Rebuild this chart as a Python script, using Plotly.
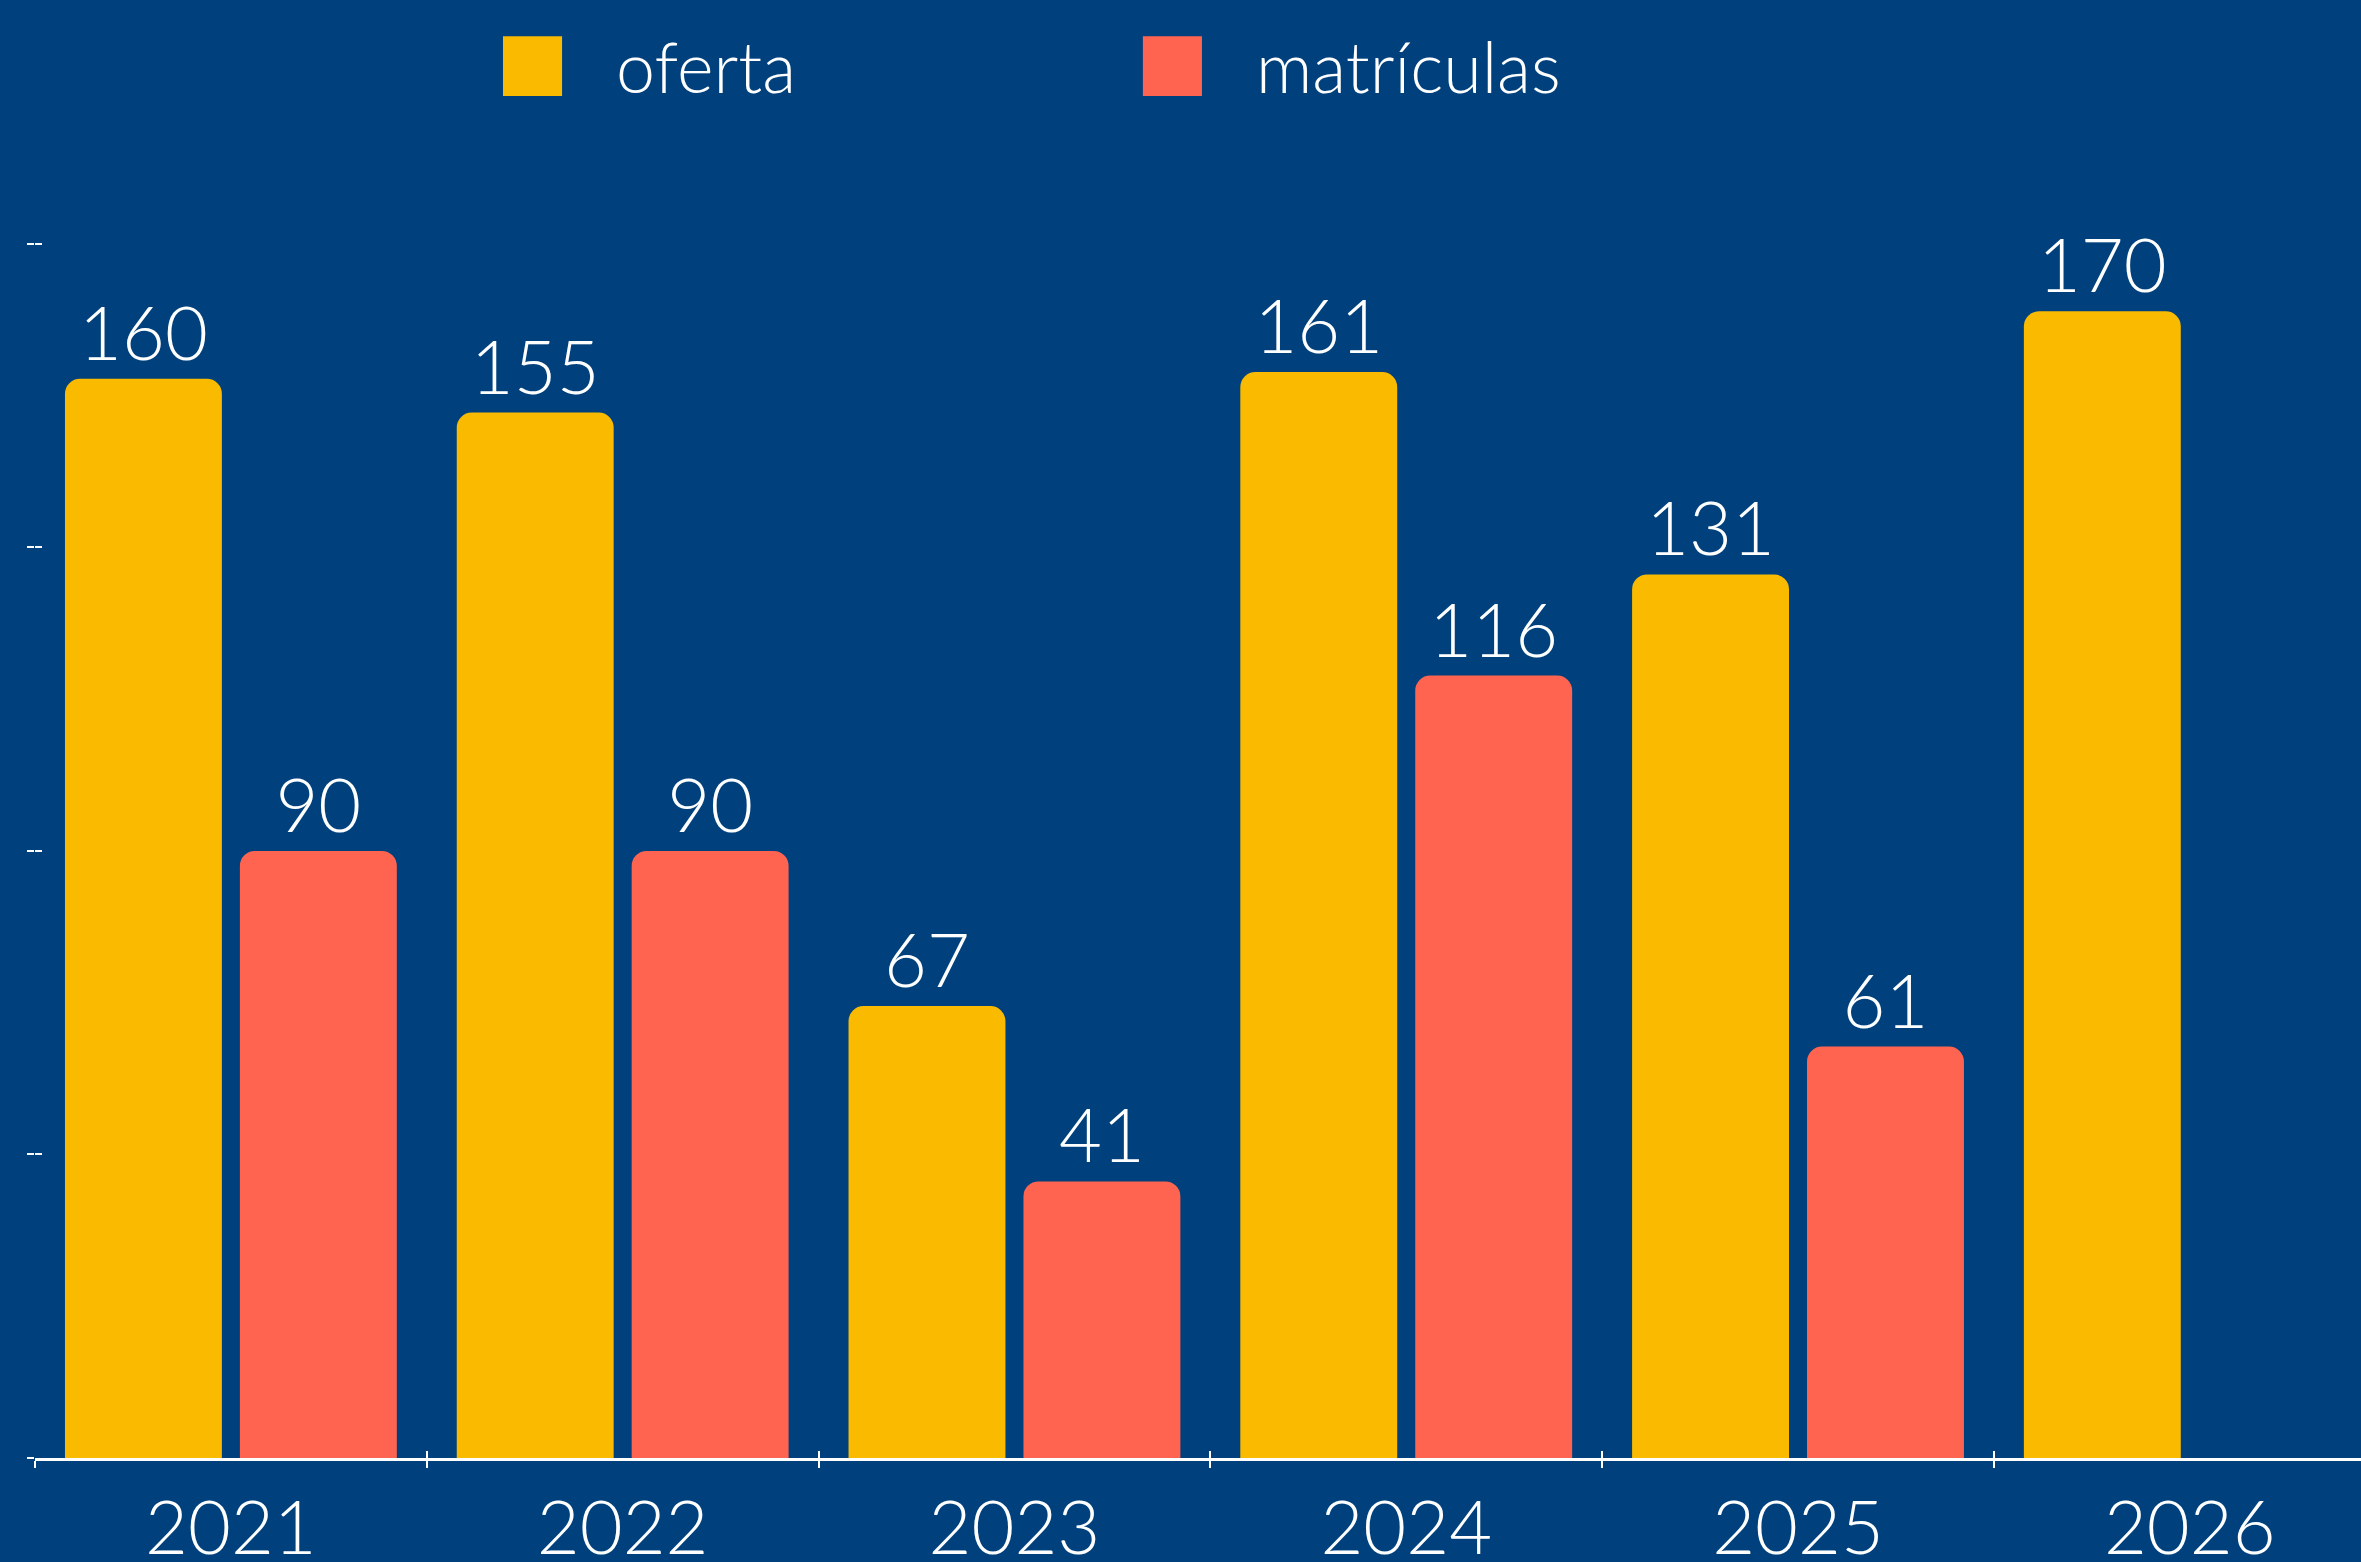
import plotly.graph_objects as go

years = ["2021", "2022", "2023", "2024", "2025", "2026"]
oferta = [160, 155, 67, 161, 131, 170]
matriculas = [90, 90, 41, 116, 61, None]
series_names = ["oferta", "matrículas"]

BG = "#00417D"
YELLOW = "#F9BA00"
CORAL = "#FF6451"
FONT = "Lato"
WEIGHT = 300

fig = go.Figure()
for name, vals, col in [(series_names[0], oferta, YELLOW), (series_names[1], matriculas, CORAL)]:
    fig.add_trace(go.Bar(
        x=years, y=vals, name=name,
        marker=dict(color=col, cornerradius=15, line=dict(width=0)),
        texttemplate="%{y}", textposition="outside", constraintext="none",
        textfont=dict(color="white", size=74, family=FONT, weight=WEIGHT),
        cliponaxis=False, showlegend=False,
    ))
# helper trace to create overlay axes (ticks on the other side)
fig.add_trace(go.Scatter(x=[], y=[], xaxis="x2", yaxis="y2", showlegend=False, hoverinfo="skip"))

XR = [-0.5, 5.437]
YR = [0, 200]
fig.update_layout(
    width=2361, height=1562,
    paper_bgcolor=BG, plot_bgcolor=BG,
    margin=dict(l=35, r=0, t=109, b=104, autoexpand=False),
    barmode="group", bargap=0.107, bargroupgap=0.103,
    showlegend=False,
    font=dict(family=FONT, color="white", weight=WEIGHT),
    xaxis=dict(
        type="category", range=XR, tickson="boundaries", automargin=False,
        ticks="outside", ticklen=7, tickwidth=2, tickcolor="white",
        showline=True, linecolor="white", linewidth=3,
        showgrid=False, zeroline=False,
        tickfont=dict(size=74, color="white", family=FONT, weight=WEIGHT),
        ticklabelstandoff=4,
    ),
    xaxis2=dict(
        overlaying="x", anchor="y", side="bottom", range=XR, automargin=False,
        tick0=-0.5, dtick=1, ticks="inside", ticklen=7, tickwidth=2, tickcolor="white",
        showticklabels=False, showgrid=False, zeroline=False, showline=False,
    ),
    yaxis=dict(
        range=YR, tick0=0, dtick=45, ticks="outside", ticklen=7, tickwidth=2, tickcolor="white",
        showticklabels=False, showgrid=False, zeroline=False, showline=False, automargin=False,
    ),
    yaxis2=dict(
        overlaying="y", anchor="x", side="left", range=YR, automargin=False,
        tick0=0, dtick=45, ticks="inside", ticklen=7, tickwidth=2, tickcolor="white",
        showticklabels=False, showgrid=False, zeroline=False, showline=False,
    ),
)

# manual legend with large swatches
legend_items = [(series_names[0], YELLOW, 0.2012, 0.2266, 0.2489),
                (series_names[1], CORAL, 0.4763, 0.5017, 0.5241)]
for name, col, x0, x1, tx in legend_items:
    fig.add_shape(type="rect", xref="paper", yref="paper", x0=x0, x1=x1, y0=1.0096, y1=1.054,
                  fillcolor=col, line=dict(width=0))
    fig.add_annotation(xref="paper", yref="paper", x=tx, y=1.0319, text=name, showarrow=False,
                       xanchor="left", yanchor="middle",
                       font=dict(size=70, color="white", family=FONT, weight=WEIGHT))

fig.write_html("out.html", config={"displayModeBar": False},
               post_script="document.body.style.margin='0';document.body.style.overflow='hidden';")
